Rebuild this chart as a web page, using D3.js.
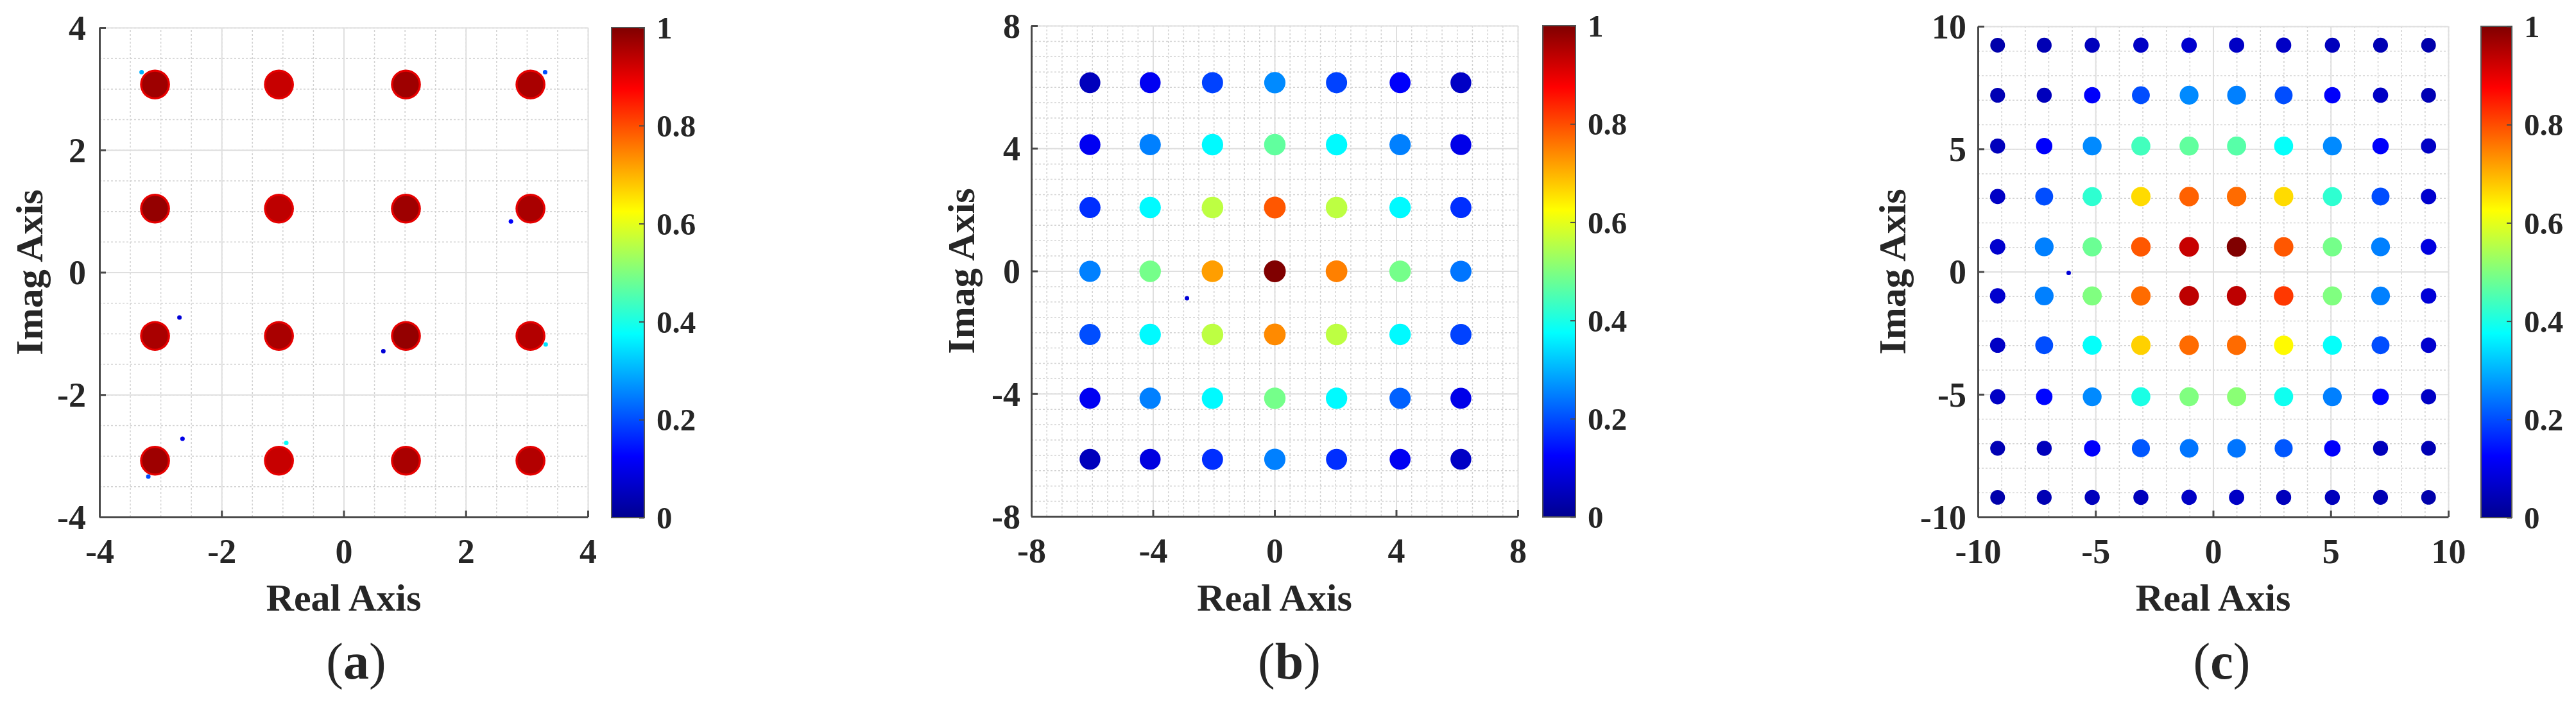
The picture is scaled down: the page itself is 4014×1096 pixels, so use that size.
<!DOCTYPE html>
<html>
<head>
<meta charset="utf-8">
<script src="https://cdn.jsdelivr.net/npm/d3@7"></script>
<style>
    body { margin: 0; background: #fff; }
    .grid path { display: none; }
    .grid-major line { stroke: #dfdfdf; stroke-width: 2; }
    .grid-minor line { stroke: #d2d2d2; stroke-width: 1.5; stroke-dasharray: 3,3; }
    .axis path, .axis line { stroke: #4a4a4a; stroke-width: 3; }
    .cbar-axis path { display: none; }
    .cbar-axis line { stroke: #4a4a4a; stroke-width: 2; }
</style>
</head>
<body>
<div id="chart"></div>
<script>
// ---- data ----
// (a) 16-QAM
const reA = [-3.09, -1.06, 1.02, 3.06];
const imA = [3.07, 1.04, -1.04, -3.08];          // rows, top to bottom
const densityA = [
    [0.97, 0.93, 0.97, 0.96],
    [0.98, 0.94, 0.97, 0.96],
    [0.96, 0.96, 0.98, 0.95],
    [0.97, 0.93, 0.96, 0.95]
];
const edgeA = 0.9;                                // rim colour of the (a) clusters
const strayA = [[2.74, 0.83, 0.12], [-2.69, -0.74, 0.08], [0.65, -1.29, 0.08], [-2.64, -2.72, 0.1],
                [-0.94, -2.79, 0.38], [-3.31, 3.27, 0.3], [3.3, 3.27, 0.2], [-3.2, -3.34, 0.2], [3.31, -1.18, 0.35]];

// (b) 7x7 grid
const reB = [-6.07, -4.09, -2.04, 0.01, 2.04, 4.13, 6.13];
const imB = [6.14, 4.12, 2.07, -0.01, -2.07, -4.15, -6.14];
const densityB = [
    [0.05, 0.11, 0.19, 0.26, 0.19, 0.12, 0.06],
    [0.11, 0.25, 0.37, 0.47, 0.37, 0.25, 0.10],
    [0.17, 0.37, 0.56, 0.79, 0.56, 0.37, 0.17],
    [0.25, 0.49, 0.72, 1.00, 0.75, 0.49, 0.24],
    [0.20, 0.37, 0.56, 0.74, 0.56, 0.37, 0.19],
    [0.11, 0.25, 0.37, 0.49, 0.37, 0.22, 0.10],
    [0.05, 0.09, 0.17, 0.25, 0.17, 0.11, 0.06]
];
const strayB = [[-2.88, -0.89, 0.08]];

// (c) 10x10 grid
const reC = [-9.16, -7.18, -5.14, -3.07, -1.02, 1.0, 3.0, 5.07, 7.12, 9.16];
const imC = [9.23, 7.19, 5.12, 3.06, 1.01, -0.99, -3.0, -5.1, -7.2, -9.2];
const densityC = [
    [0.03, 0.04, 0.05, 0.06, 0.07, 0.06, 0.06, 0.05, 0.04, 0.03],
    [0.04, 0.05, 0.12, 0.20, 0.26, 0.25, 0.20, 0.12, 0.06, 0.04],
    [0.05, 0.12, 0.26, 0.44, 0.47, 0.46, 0.38, 0.26, 0.12, 0.06],
    [0.06, 0.20, 0.42, 0.66, 0.78, 0.77, 0.66, 0.42, 0.20, 0.07],
    [0.07, 0.25, 0.48, 0.79, 0.93, 1.00, 0.79, 0.49, 0.25, 0.09],
    [0.07, 0.25, 0.50, 0.77, 0.94, 0.94, 0.82, 0.50, 0.25, 0.08],
    [0.06, 0.20, 0.38, 0.67, 0.77, 0.77, 0.63, 0.38, 0.20, 0.07],
    [0.06, 0.13, 0.26, 0.40, 0.50, 0.51, 0.39, 0.25, 0.13, 0.06],
    [0.04, 0.05, 0.12, 0.21, 0.24, 0.24, 0.21, 0.12, 0.05, 0.04],
    [0.03, 0.04, 0.05, 0.05, 0.06, 0.06, 0.05, 0.05, 0.04, 0.03]
];
const strayC = [[-6.14, -0.05, 0.08]];

// axis ticks
const ticksA = [-4, -2, 0, 2, 4];
const ticksB = [-8, -4, 0, 4, 8];
const ticksC = [-10, -5, 0, 5, 10];
const colorTicks = [0, 0.2, 0.4, 0.6, 0.8, 1];
const captions = ['a', 'b', 'c'];

const FONT = '"Liberation Serif", "Times New Roman", Times, Tinos, "Nimbus Roman", "DejaVu Serif", serif';

// jet colormap
const jetStops = [0, 0.125, 0.375, 0.625, 0.875, 1];
const jetColors = ['#000090', '#0000ff', '#00ffff', '#ffff00', '#ff0000', '#800000'];
const jet = d3.scaleLinear().domain(jetStops).range(jetColors).interpolate(d3.interpolateRgb).clamp(true);

const W = 4014, H = 1096;
const svg = d3.select('#chart').append('svg')
    .attr('width', W).attr('height', H)
    .style('display', 'block');
svg.append('rect').attr('width', W).attr('height', H).attr('fill', '#fff');

// shared colorbar gradient
const grad = svg.append('defs').append('linearGradient')
    .attr('id', 'jet').attr('x1', 0).attr('y1', 1).attr('x2', 0).attr('y2', 0);
grad.selectAll('stop').data(jetStops).join('stop')
    .attr('offset', d => d)
    .attr('stop-color', d => jet(d));

function toPoints(re, im, dens) {
    let pts = [];
    im.forEach((y, i) => re.forEach((x, j) => pts.push({ x: x, y: y, v: dens[i][j] })));
    return pts;
}

// text helper: Times-like bold serif
function styleText(sel, size) {
    return sel.style('font-family', FONT).style('font-weight', 'bold')
        .style('font-size', size + 'px').style('fill', '#262626');
}

const plainNum = d => String(+(+d).toFixed(1));   // hyphen minus, like MATLAB

function drawPanel(cfg) {
    let { left, right, top, bottom } = cfg;
    let lo = cfg.ticks[0], hi = cfg.ticks[cfg.ticks.length - 1];
    let x = d3.scaleLinear([lo, hi], [left, right]);
    let y = d3.scaleLinear([lo, hi], [bottom, top]);
    let g = svg.append('g');
    let minor = d3.range(lo, hi + 1e-9, cfg.minorStep);

    // grid
    g.append('g').attr('class', 'grid grid-minor')
        .attr('transform', `translate(0, ${bottom})`)
        .call(d3.axisBottom(x).tickValues(minor).tickSize(-(bottom - top)).tickFormat(''));
    g.append('g').attr('class', 'grid grid-minor')
        .attr('transform', `translate(${left}, 0)`)
        .call(d3.axisLeft(y).tickValues(minor).tickSize(-(right - left)).tickFormat(''));
    g.append('g').attr('class', 'grid grid-major')
        .attr('transform', `translate(0, ${bottom})`)
        .call(d3.axisBottom(x).tickValues(cfg.ticks).tickSize(-(bottom - top)).tickFormat(''));
    g.append('g').attr('class', 'grid grid-major')
        .attr('transform', `translate(${left}, 0)`)
        .call(d3.axisLeft(y).tickValues(cfg.ticks).tickSize(-(right - left)).tickFormat(''));

    // clusters
    let unit = x(1) - x(0);
    let pts = toPoints(cfg.re, cfg.im, cfg.density);
    let rScale = d3.scaleLinear().domain([0, 0.25, 1]).range(cfg.radius).clamp(true);
    let marks = g.append('g');
    if (cfg.edge !== undefined) {
        marks.selectAll('circle.rim').data(pts).join('circle')
            .attr('class', 'rim')
            .attr('cx', d => x(d.x)).attr('cy', d => y(d.y))
            .attr('r', d => rScale(d.v) * unit)
            .attr('fill', jet(cfg.edge));
    }
    marks.selectAll('circle.core').data(pts).join('circle')
        .attr('class', 'core')
        .attr('cx', d => x(d.x)).attr('cy', d => y(d.y))
        .attr('r', d => rScale(d.v) * unit * (cfg.edge !== undefined ? 0.86 : 1))
        .attr('fill', d => jet(d.v));
    marks.selectAll('circle.stray').data(cfg.stray).join('circle')
        .attr('class', 'stray')
        .attr('cx', d => x(d[0])).attr('cy', d => y(d[1]))
        .attr('r', 3.5)
        .attr('fill', d => jet(d[2]));

    // axes
    let ax = g.append('g').attr('class', 'axis')
        .attr('transform', `translate(0, ${bottom})`)
        .call(d3.axisBottom(x).tickValues(cfg.ticks).tickSizeInner(-10).tickSizeOuter(0).tickPadding(34)
            .tickFormat(plainNum));
    styleText(ax.selectAll('text'), 54);
    let ay = g.append('g').attr('class', 'axis')
        .attr('transform', `translate(${left}, 0)`)
        .call(d3.axisLeft(y).tickValues(cfg.ticks).tickSizeInner(-10).tickSizeOuter(0).tickPadding(cfg.yPad)
            .tickFormat(plainNum));
    styleText(ay.selectAll('text'), 54).attr('dy', '0.34em');

    // axis labels
    styleText(g.append('text'), 60)
        .attr('x', (left + right) / 2).attr('y', 952)
        .attr('text-anchor', 'middle')
        .text('Real Axis');
    styleText(g.append('text'), 60)
        .attr('transform', `translate(${left - cfg.labelOffset}, ${(top + bottom) / 2}) rotate(-90)`)
        .attr('text-anchor', 'middle')
        .text('Imag Axis');

    // colorbar
    let c = d3.scaleLinear([0, 1], [bottom + 1, top]);
    g.append('rect')
        .attr('x', cfg.cbLeft).attr('y', top)
        .attr('width', cfg.cbRight - cfg.cbLeft).attr('height', bottom + 1 - top)
        .attr('fill', 'url(#jet)')
        .attr('stroke', '#555').attr('stroke-width', 2);
    let cb = g.append('g').attr('class', 'cbar-axis')
        .attr('transform', `translate(${cfg.cbRight}, 0)`)
        .call(d3.axisRight(c).tickValues(colorTicks).tickSizeInner(-8).tickSizeOuter(0).tickPadding(19)
            .tickFormat(plainNum));
    styleText(cb.selectAll('text'), 49).attr('dy', '0.34em');

    // caption
    let cap = styleText(g.append('text'), 80)
        .attr('x', cfg.captionX).attr('y', 1058)
        .attr('text-anchor', 'middle');
    cap.append('tspan').style('font-weight', 'normal').text('(');
    cap.append('tspan').text(cfg.caption);
    cap.append('tspan').style('font-weight', 'normal').text(')');
}

drawPanel({ re: reA, im: imA, density: densityA, edge: edgeA, stray: strayA, ticks: ticksA, minorStep: 0.5,
    radius: [0.245, 0.245, 0.245], left: 155, right: 916, top: 43, bottom: 806,
    cbLeft: 953, cbRight: 1004, yPad: 21, labelOffset: 89, captionX: 555, caption: captions[0] });
drawPanel({ re: reB, im: imB, density: densityB, stray: strayB, ticks: ticksB, minorStep: 0.5,
    radius: [0.34, 0.35, 0.36], left: 1607, right: 2365, top: 40, bottom: 805,
    cbLeft: 2404, cbRight: 2455, yPad: 17, labelOffset: 89, captionX: 2009, caption: captions[1] });
drawPanel({ re: reC, im: imC, density: densityC, stray: strayC, ticks: ticksC, minorStep: 1,
    radius: [0.3, 0.4, 0.42], left: 3082, right: 3815, top: 41, bottom: 806,
    cbLeft: 3866, cbRight: 3914, yPad: 18, labelOffset: 113, captionX: 3462, caption: captions[2] });
</script>
</body>
</html>
